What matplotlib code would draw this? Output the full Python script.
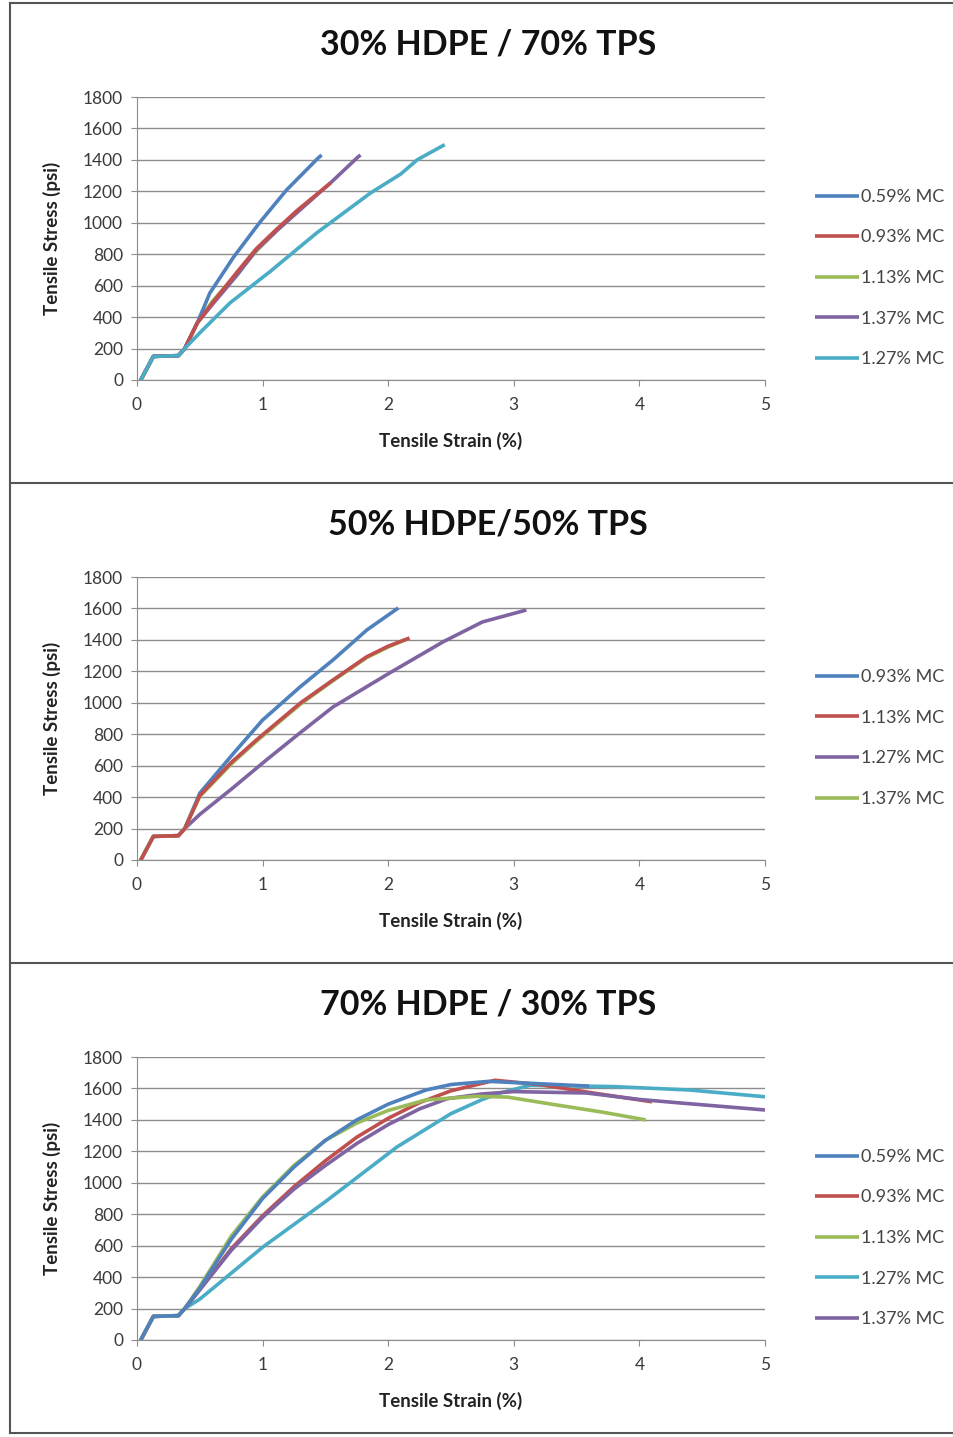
import matplotlib
matplotlib.use("Agg")
import matplotlib.pyplot as plt
from matplotlib.lines import Line2D

plt.rcParams['font.family'] = ['Lato', 'DejaVu Sans']

W, H = 954, 1437

blue = '#4F81BD'
red = '#C0504D'
green = '#9BBB59'
purple = '#8064A2'
aqua = '#4BACC6'

# common toe region of every curve
toe_x = [0.03, 0.13, 0.33, 0.38]
toe_y = [0, 150, 155, 200]

# ---- 30% HDPE / 70% TPS ----
p1_title = "30% HDPE / 70% TPS"
p1_labels = ['0.59% MC', '0.93% MC', '1.13% MC', '1.37% MC', '1.27% MC']
p1_colors = [blue, red, green, purple, aqua]
p1_x = [
    toe_x + [0.48, 0.58, 0.77, 0.98, 1.19, 1.44, 1.47],
    toe_x + [0.48, 0.61, 0.8, 0.95, 1.1, 1.27, 1.54],
    toe_x + [0.48, 0.6, 0.8, 0.95, 1.1],
    toe_x + [0.48, 0.61, 0.8, 0.95, 1.1, 1.27, 1.54, 1.76, 1.78],
    toe_x + [0.5, 0.74, 1.06, 1.43, 1.86, 2.1, 2.23, 2.45],
]
p1_y = [
    toe_y + [363, 553, 783, 1005, 1208, 1410, 1431],
    toe_y + [363, 500, 690, 835, 950, 1075, 1253],
    toe_y + [363, 500, 680, 820, 940],
    toe_y + [363, 490, 670, 827, 940, 1062, 1253, 1419, 1431],
    toe_y + [300, 490, 690, 935, 1190, 1310, 1400, 1497],
]
p1_order = [2, 0, 3, 1, 4]

# ---- 50% HDPE/50% TPS ----
p2_title = "50% HDPE/50% TPS"
p2_labels = ['0.93% MC', '1.13% MC', '1.27% MC', '1.37% MC']
p2_colors = [blue, red, purple, green]
p2_x = [
    toe_x + [0.5, 0.77, 1.0, 1.3, 1.56, 1.83, 2.08],
    toe_x + [0.5, 0.75, 0.95, 1.3, 1.56, 1.83, 2.0, 2.17],
    toe_x + [0.5, 0.75, 1.03, 1.3, 1.56, 2.01, 2.44, 2.75, 3.1],
    toe_x + [0.5, 0.75, 0.95, 1.3, 1.56, 1.83, 2.0, 2.15],
]
p2_y = [
    toe_y + [425, 680, 890, 1102, 1272, 1463, 1603],
    toe_y + [410, 620, 763, 998, 1145, 1293, 1360, 1412],
    toe_y + [290, 450, 636, 810, 973, 1189, 1389, 1514, 1590],
    toe_y + [405, 610, 755, 990, 1140, 1288, 1355, 1405],
]
p2_order = [0, 2, 3, 1]

# ---- 70% HDPE / 30% TPS ----
p3_title = "70% HDPE / 30% TPS"
p3_labels = ['0.59% MC', '0.93% MC', '1.13% MC', '1.27% MC', '1.37% MC']
p3_colors = [blue, red, green, aqua, purple]
p3_x = [
    toe_x + [0.5, 0.75, 1.0, 1.25, 1.5, 1.75, 2.0, 2.3, 2.5, 2.8, 3.2, 3.6],
    toe_x + [0.5, 0.75, 1.0, 1.25, 1.5, 1.75, 2.0, 2.25, 2.5, 2.85, 3.2, 3.6, 4.1],
    toe_x + [0.5, 0.75, 1.0, 1.25, 1.5, 1.75, 2.0, 2.3, 2.7, 2.95, 3.3, 3.7, 4.05],
    toe_x + [0.5, 1.0, 1.5, 2.07, 2.5, 2.75, 2.89, 3.13, 3.79, 4.4, 5.0],
    toe_x + [0.5, 0.75, 1.0, 1.25, 1.5, 1.75, 2.0, 2.25, 2.47, 2.75, 3.0, 3.58, 4.0, 4.32, 5.0],
]
p3_y = [
    toe_y + [330, 640, 900, 1100, 1270, 1400, 1500, 1590, 1625, 1645, 1630, 1615],
    toe_y + [320, 580, 790, 975, 1140, 1290, 1410, 1510, 1585, 1652, 1625, 1575, 1515],
    toe_y + [340, 660, 910, 1110, 1270, 1380, 1460, 1527, 1550, 1545, 1500, 1450, 1400],
    toe_y + [260, 590, 880, 1228, 1440, 1530, 1571, 1620, 1612, 1590, 1547],
    toe_y + [320, 570, 780, 960, 1110, 1250, 1370, 1470, 1535, 1565, 1580, 1571, 1530, 1508, 1463],
]
p3_order = [3, 1, 4, 2, 0]

panels = [
    (p1_title, p1_labels, p1_colors, p1_x, p1_y, p1_order, 0),
    (p2_title, p2_labels, p2_colors, p2_x, p2_y, p2_order, 480),
    (p3_title, p3_labels, p3_colors, p3_x, p3_y, p3_order, 960),
]

fig = plt.figure(figsize=(W / 100, H / 100), dpi=100)


def fx(px):
    return px / W


def fy(py):
    return 1 - py / H


tick_col = '#3a3a3a'
for title, labels, colors, xs, ys, order, off in panels:
    top, bot = 97 + off, 380 + off
    ax = fig.add_axes([fx(137), fy(bot), fx(765) - fx(137), (bot - top) / H])
    handles = {}
    for i in order:
        ln, = ax.plot(xs[i], ys[i], color=colors[i], lw=2.6,
                      solid_joinstyle='round', solid_capstyle='butt')
        handles[i] = ln
    ax.set_xlim(0, 5)
    ax.set_ylim(0, 1800)
    ax.set_xticks(range(6))
    ax.set_yticks(range(0, 1801, 200))
    ax.grid(axis='y', color='#8c8c8c', lw=1.0)
    ax.set_axisbelow(True)
    for s in ['top', 'right']:
        ax.spines[s].set_visible(False)
    for s in ['left', 'bottom']:
        ax.spines[s].set_color('#8c8c8c')
    ax.tick_params(axis='both', colors='#8c8c8c', labelcolor=tick_col, labelsize=12.5, length=4)
    ax.tick_params(axis='x', pad=8)
    ax.tick_params(axis='y', pad=6)

    fig.text(fx(488), fy(45 + off), title, ha='center', va='center',
             fontsize=24.5, fontweight='bold', color='#111111')
    fig.text(fx(451), fy(441 + off), 'Tensile Strain (%)', ha='center', va='center',
             fontsize=13.5, fontweight='bold', color='#222222')
    fig.text(fx(52), fy(238 + off), 'Tensile Stress (psi)', ha='center', va='center',
             rotation=90, fontsize=13.5, fontweight='bold', color='#222222')

    n = len(labels)
    ax.legend([handles[i] for i in range(n)], labels, loc='center left',
              bbox_to_anchor=(fx(799), fy((198 + 198 + 40 * (n - 1)) / 2 + off)),
              bbox_transform=fig.transFigure, frameon=False, fontsize=13,
              handlelength=2.45, handletextpad=0.1, labelspacing=1.36,
              labelcolor='#444444')

# outer frame and separators
frame_col = '#555555'
fig.add_artist(Line2D([fx(10), fx(10)], [fy(3), fy(1433)], color=frame_col, lw=1.5))
for py in [3, 483, 963, 1433]:
    fig.add_artist(Line2D([fx(10), 1], [fy(py), fy(py)], color=frame_col, lw=1.5))

fig.savefig('out.png', dpi=100)
